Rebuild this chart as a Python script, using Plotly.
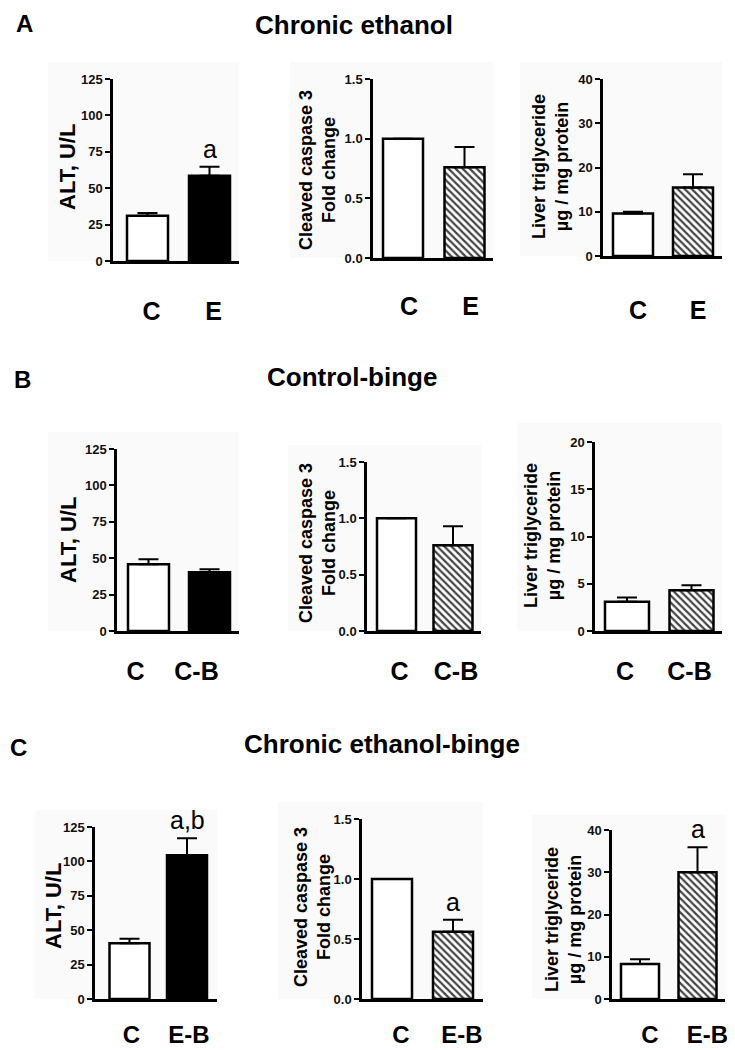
import plotly.graph_objects as go

# the page shows the figure with an 8 px body margin, so geometry below
# (given in screen pixels) is shifted by OFF before use
OFF = 8
W, H = 735 - OFF, 1050 - OFF

# ---------------- data ----------------
categories_A = ["C", "E"]
categories_B = ["C", "C-B"]
categories_C = ["C", "E-B"]

alt_A = [31.0, 58.5]
alt_A_err = [2.0, 6.3]
casp_A = [1.0, 0.76]
casp_A_err = [0.0, 0.17]
tg_A = [9.6, 15.5]
tg_A_err = [0.4, 3.0]

alt_B = [45.8, 40.3]
alt_B_err = [3.4, 2.1]
casp_B = [1.0, 0.76]
casp_B_err = [0.0, 0.17]
tg_B = [3.1, 4.3]
tg_B_err = [0.45, 0.55]

alt_C = [40.5, 104.5]
alt_C_err = [3.3, 12.3]
casp_C = [1.0, 0.56]
casp_C_err = [0.0, 0.10]
tg_C = [8.3, 30.0]
tg_C_err = [1.1, 5.9]

alt_ticks = [0, 25, 50, 75, 100, 125]
casp_ticks = [0.0, 0.5, 1.0, 1.5]
tg_ticks_40 = [0, 10, 20, 30, 40]
tg_ticks_20 = [0, 5, 10, 15, 20]

sig_A = ["a", None, None]
sig_B = [None, None, None]
sig_C = ["a,b", "a", "a"]

ytitle_alt = "ALT, U/L"
ytitle_casp = "Cleaved caspase 3<br>Fold change"
ytitle_tg = "Liver triglyceride<br>µg / mg protein"

section_titles = ["Chronic ethanol", "Control-binge", "Chronic ethanol-binge"]
section_letters = ["A", "B", "C"]

# ---------------- layout geometry (screen pixels) ----------------
# (axis_x, end_x, zero_y, top_y, center0, center1, bar_w, label_standoff, label_shift, label_size)
geom = [
    (113, 239, 261, 79, 147.5, 209.5, 41, 26, 4, 25),
    (373, 493, 258, 79, 403, 464.5, 40, 24, 6, 25),
    (603, 722, 256, 79, 633, 693, 40, 30, 5, 25),
    (117, 239, 631, 449, 148.5, 209.5, 41, 16, -13, 25),
    (367, 481, 631, 462, 396.5, 453, 39, 16, 3, 25),
    (595, 722, 631, 442, 627, 691.5, 44, 16, -2, 25),
    (95, 217, 999, 827, 129.5, 187, 40, 12, 2, 24),
    (362, 483, 999, 819, 392, 453, 40, 12, 9, 24),
    (612, 725, 999, 830, 640, 697.5, 38, 12, 10, 24),
]
bg_rects = [
    (48, 239, 62, 261), (290, 493, 62, 258), (520, 722, 62, 256),
    (48, 239, 432, 631), (288, 481, 445, 631), (517, 722, 423, 631),
    (35, 217, 810, 999), (278, 483, 802, 999), (532, 725, 815, 999),
]
ytitle_pos = [
    (67, 167, 22), (318, 170, 18), (550, 167, 18),
    (68, 540, 22), (317, 543, 18), (542, 536, 18),
    (53, 906, 22), (312, 907, 18), (563, 920, 18),
]
title_pos = [(354, 25), (352, 377), (382, 744)]
letter_pos = [(24, 24), (22, 380), (18, 747)]


def X(px):
    return (px - OFF) / W


def Y(py):
    return 1 - (py - OFF) / H


panels = [
    (categories_A, alt_A, alt_A_err, alt_ticks, "alt", ytitle_alt, sig_A[0]),
    (categories_A, casp_A, casp_A_err, casp_ticks, "casp", ytitle_casp, sig_A[1]),
    (categories_A, tg_A, tg_A_err, tg_ticks_40, "tg", ytitle_tg, sig_A[2]),
    (categories_B, alt_B, alt_B_err, alt_ticks, "alt", ytitle_alt, sig_B[0]),
    (categories_B, casp_B, casp_B_err, casp_ticks, "casp", ytitle_casp, sig_B[1]),
    (categories_B, tg_B, tg_B_err, tg_ticks_20, "tg", ytitle_tg, sig_B[2]),
    (categories_C, alt_C, alt_C_err, alt_ticks, "alt", ytitle_alt, sig_C[0]),
    (categories_C, casp_C, casp_C_err, casp_ticks, "casp", ytitle_casp, sig_C[1]),
    (categories_C, tg_C, tg_C_err, tg_ticks_40, "tg", ytitle_tg, sig_C[2]),
]

FONT = "Liberation Sans, Arial, Helvetica, sans-serif"

fig = go.Figure()
layout = dict(
    width=W, height=H,
    margin=dict(l=0, r=0, t=0, b=0, pad=0, autoexpand=False),
    paper_bgcolor="white",
    plot_bgcolor="rgba(0,0,0,0)",
    showlegend=False,
    font=dict(family=FONT, color="black"),
)
annotations = []
shapes = []

for i, (cats, vals, errs, ticks, kind, ytitle, sig) in enumerate(panels):
    ax_x, end_x, zero_y, top_y, c0, c1, bw, standoff, shift, lsize = geom[i]
    n = "" if i == 0 else str(i + 1)
    xa, ya = "x" + n, "y" + n
    step = c1 - c0

    if kind == "alt":
        colors = ["white", "black"]
        shapes_pat = ["", ""]
    else:
        colors = ["white", "white"]
        shapes_pat = ["", "\\"]

    fig.add_trace(go.Bar(
        x=cats, y=vals, xaxis=xa, yaxis=ya,
        width=bw / step,
        marker=dict(
            color=colors,
            line=dict(color="black", width=2.5),
            pattern=dict(shape=shapes_pat, fgcolor="black",
                         fgopacity=1, size=5, solidity=0.45, fillmode="overlay"),
        ),
        error_y=dict(type="data", symmetric=False, array=errs,
                     arrayminus=[0] * len(errs), color="black",
                     thickness=2, width=10),
        hoverinfo="skip",
    ))

    layout["xaxis" + n] = dict(
        domain=[X(ax_x), X(end_x)], anchor=ya, type="category",
        range=[(ax_x - c0) / step, (end_x - c0) / step],
        showline=True, linecolor="black", linewidth=2.5,
        ticks="", showgrid=False, zeroline=False, automargin=False,
        tickfont=dict(family=FONT, size=lsize, color="black", weight="bold"),
        ticklabelstandoff=standoff, ticklabelshift=shift,
        fixedrange=True,
    )
    layout["yaxis" + n] = dict(
        domain=[Y(zero_y), Y(top_y)], anchor=xa,
        range=[0, ticks[-1]], tickvals=ticks,
        tickformat=".1f" if kind == "casp" else "d",
        showline=True, linecolor="black", linewidth=2.5,
        ticks="outside", ticklen=5, tickwidth=2, tickcolor="black",
        showgrid=False, zeroline=False, automargin=False,
        tickfont=dict(family=FONT, size=13, color="#111", weight="bold"),
        fixedrange=True,
    )

    bx0, bx1, by0, by1 = bg_rects[i]
    shapes.append(dict(type="rect", xref="paper", yref="paper",
                       x0=X(bx0), x1=X(bx1), y0=Y(by1), y1=Y(by0),
                       fillcolor="#fafafa", line=dict(width=0), layer="below"))

    tx, ty, tsize = ytitle_pos[i]
    annotations.append(dict(
        xref="paper", yref="paper", x=X(tx), y=Y(ty), text=ytitle,
        textangle=-90, showarrow=False, xanchor="center", yanchor="middle",
        font=dict(family=FONT, size=tsize, color="black", weight="bold"),
    ))

    if sig:
        annotations.append(dict(
            xref=xa, yref=ya, x=cats[1], y=vals[1] + errs[1], text=sig,
            showarrow=False, xanchor="center", yanchor="bottom", yshift=2,
            font=dict(family=FONT, size=25, color="black"),
        ))

for t, (px, py) in zip(section_titles, title_pos):
    annotations.append(dict(
        xref="paper", yref="paper", x=X(px), y=Y(py), text=t, showarrow=False,
        xanchor="center", yanchor="middle", borderpad=0,
        font=dict(family=FONT, size=26, color="black", weight="bold"),
    ))
for t, (px, py) in zip(section_letters, letter_pos):
    annotations.append(dict(
        xref="paper", yref="paper", x=X(px), y=Y(py), text=t, showarrow=False,
        xanchor="center", yanchor="middle", borderpad=0,
        font=dict(family=FONT, size=24, color="black", weight="bold"),
    ))

layout["annotations"] = annotations
layout["shapes"] = shapes
fig.update_layout(**layout)
fig.write_html("out.html")
